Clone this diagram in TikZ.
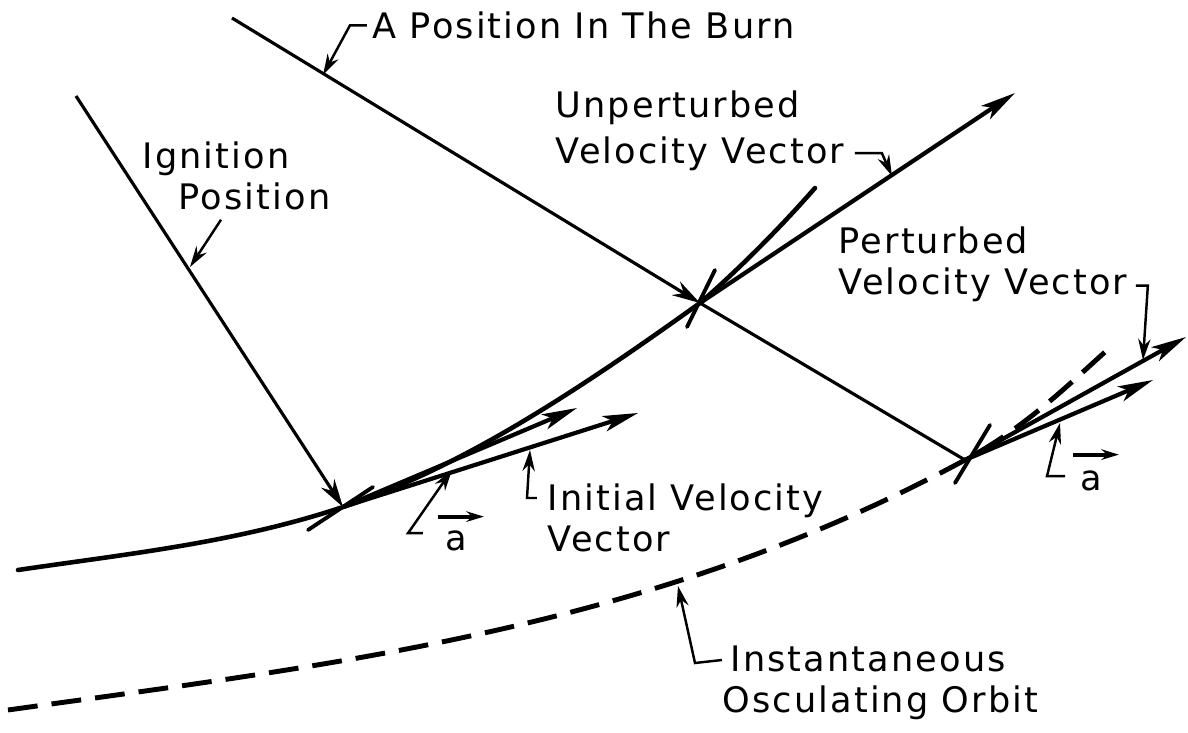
\documentclass[tikz,border=0pt]{standalone}
\usepackage{fontspec}
\setmainfont{DejaVu Sans}[LetterSpace=6]
\usetikzlibrary{arrows.meta, calc}
\tikzset{
  orbitpath/.style={line width=1.3pt, line cap=round},
  oscpath/.style={line width=1.4pt, dash pattern=on 8.5pt off 4pt},
  posline/.style={line width=0.9pt},
  posarrow/.style={-{Stealth[length=8pt,width=4.5pt]}, line width=0.9pt},
  velvec/.style={-{Stealth[length=10pt,width=4.5pt,inset=2.5pt]}, line width=1.2pt},
  tickmark/.style={line width=1.1pt, line cap=round},
  leader/.style={-{Stealth[length=6pt,width=3.5pt]}, line width=0.7pt},
  lbl/.style={anchor=north west, inner sep=0pt, align=left, font=\fontsize{10}{11.7}\selectfont},
  avec/.style={-{Stealth[length=5pt,width=3pt]}, line width=1.1pt}
}

\begin{document}
\begin{tikzpicture}
    \useasboundingbox (0,0) rectangle (11.88,-7.33);
    %% the three positions along the burn
    \coordinate (ign)  at (3.43,-5.07);
    \coordinate (burn) at (7.00,-3.03);
    \coordinate (pert) at (9.65,-4.60);
    \coordinate (ign0)  at (0.76,-0.96);
    \coordinate (burn0) at (2.32,-0.18);
    \coordinate (trj0) at (0.18,-5.70);
    \coordinate (trj1) at (8.15,-1.88);
    \coordinate (orb0) at (0.08,-7.10);
    \coordinate (orb1) at (11.13,-3.45);
    \coordinate (iv) at (6.38,-4.13);
    \coordinate (iw) at (5.77,-4.08);
    \coordinate (uv) at (10.15,-0.93);
    \coordinate (pv) at (11.86,-3.37);
    \coordinate (pw) at (11.53,-3.80);
    %% leader tips
    \coordinate (burnarr) at (3.23,-0.75);
    \coordinate (ignarr)  at (1.90,-2.67);
    \coordinate (unparr)  at (8.92,-1.76);
    \coordinate (perarr)  at (11.43,-3.60);
    \coordinate (iniarr)  at (5.30,-4.50);
    \coordinate (a1arr)   at (4.52,-4.70);
    \coordinate (a3arr)   at (10.60,-4.23);
    \coordinate (oscarr)  at (6.78,-5.86);

    \node[lbl] (burnlbl) at (3.72,-0.11) {A Position In The Burn};
    \node[lbl, font=\fontsize{10}{13}\selectfont] (unplbl) at (5.55,-0.90) {Unperturbed\\Velocity Vector};
    \node[lbl] (ignlbl) at (1.42,-1.41) {Ignition\\\hspace*{0.36cm}Position};
    \node[lbl] (perlbl) at (8.38,-2.26) {Perturbed\\Velocity Vector};
    \node[lbl] (inilbl) at (5.47,-4.83) {Initial Velocity\\Vector};
    \node[lbl] (osclbl) at (7.22,-6.45) {\hspace*{0.08cm}Instantaneous\\Osculating Orbit};
    \node[anchor=base west, inner sep=0pt, font=\fontsize{10}{12}\selectfont] (a1) at (4.45,-5.50) {a};
    \node[anchor=base west, inner sep=0pt, font=\fontsize{10}{12}\selectfont] (a3) at (10.80,-4.90) {a};

    \draw[orbitpath] (trj0) .. controls (1.26,-5.54) and (2.35,-5.43) .. (ign)
                     .. controls (4.63,-4.67) and (5.80,-3.89) .. (burn)
                     .. controls (7.38,-2.70) and (7.79,-2.29) .. (trj1);
    \draw[oscpath] (orb0) .. controls (3.30,-6.65) and (6.50,-6.30) .. (pert)
                   .. controls (10.30,-4.25) and (10.75,-3.78) .. (orb1);
    \draw[posarrow] (ign0) -- (ign);
    \draw[posarrow] (burn0) -- (burn);
    \draw[posline] (burn) -- (pert);
    \draw[velvec] (ign) -- (iv);
    \draw[velvec] (ign) -- (iw);
    \draw[velvec] (burn) -- (uv);
    \draw[velvec] (pert) -- (pv);
    \draw[velvec] (pert) -- (pw);
    \draw[tickmark] ($(ign)+(-0.35,-0.23)$) -- ($(ign)+(0.30,0.20)$);
    \draw[tickmark] ($(burn)+(-0.13,-0.24)$) -- ($(burn)+(0.15,0.33)$);
    \draw[tickmark] ($(pert)+(-0.10,-0.23)$) -- ($(pert)+(0.25,0.35)$);
    \draw[avec] ([shift={(-0.07,0.13)}]a1.north west) -- ([shift={(0.16,0.13)}]a1.north east);
    \draw[avec] ([shift={(-0.07,0.15)}]a3.north west) -- ([shift={(0.16,0.15)}]a3.north east);

    \draw[leader] ([xshift=-0.05cm]burnlbl.west) -- ++(-0.17,0) -- (burnarr);
    \draw[leader] ([shift={(0.79,-0.09)}]ignlbl.south west) -- (ignarr);
    \draw[leader] ([shift={(0.10,0.18)}]unplbl.south east) -- ++(0.27,0) -- (unparr);
    \draw[leader] ([shift={(0.08,0.17)}]perlbl.south east) -- ++(0.12,0) -- (perarr);
    \draw[leader] ([shift={(-0.10,-0.15)}]inilbl.north west) -- ++(-0.10,0) -- (iniarr);
    \draw[leader] ([shift={(-0.22,0.18)}]a1.south west) -- ++(-0.15,0) -- (a1arr);
    \draw[leader] ([shift={(-0.15,0.15)}]a3.south west) -- ++(-0.18,0) -- (a3arr);
    \draw[leader] ([shift={(0,-0.15)}]osclbl.north west) -- ++(-0.27,-0.03) -- (oscarr);
\end{tikzpicture}
\end{document}
